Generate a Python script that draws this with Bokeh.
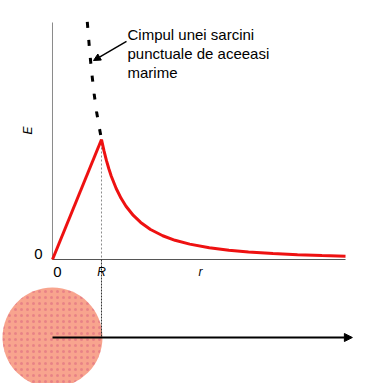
from bokeh.plotting import figure
from bokeh.models import Range1d, Arrow, NormalHead
from bokeh.core.properties import value
from bokeh.embed import file_html
from bokeh.resources import INLINE
import math

# Field of a uniformly charged sphere (units: r/R, E/E(R))
r_inside = [0.0, 1.0]
E_inside = [0.0, 1.0]
r_outside = [1.0, 1.05, 1.1, 1.15, 1.2, 1.3, 1.4, 1.5, 1.65, 1.8, 2.0, 2.25, 2.5, 2.8, 3.2, 3.6, 4.0, 4.5, 5.0, 5.5, 5.98]
E_outside = [1.0, 0.907, 0.826, 0.756, 0.694, 0.592, 0.510, 0.444, 0.367, 0.309, 0.25, 0.198, 0.16, 0.128, 0.098, 0.077, 0.0625, 0.049, 0.04, 0.033, 0.028]
# Point charge of the same magnitude (dashed)
r_point = [0.71, 0.73, 0.76, 0.8, 0.85, 0.9, 0.95, 1.0]
E_point = [1.98, 1.88, 1.73, 1.56, 1.38, 1.23, 1.11, 1.0]

R = 1.0
r_axis_end = 5.98
E_axis_top = 1.975
sphere_y = -0.65
sphere_radius = 1.02
r_arrow_end = 6.12

x_tick_pos = [0.1, 1.0, 3.02]
x_tick_labels = ["0", "R", "r"]
y_tick_label = "0"
y_label = "E"
note_lines = ["Cimpul unei sarcini", "punctuale de aceeasi", "marime"]

p = figure(width=359, height=383, output_backend="svg", toolbar_location=None,
           x_range=Range1d(-1.0612, 6.2653), y_range=Range1d(-1.0333, 2.1583),
           min_border=0)
p.axis.visible = False
p.grid.visible = False
p.outline_line_color = None
p.background_fill_color = "white"

# sphere (bottom diagram)
p.circle(x=[0], y=[sphere_y], radius=sphere_radius, fill_color="#F8A48E",
         line_color=None, hatch_pattern="dot", hatch_color="#D0507A",
         hatch_scale=6, hatch_weight=0.7, hatch_alpha=0.4)

# axes of graph
p.line([0, 0], [0, E_axis_top], line_color="#8a8a8a", line_width=1)
p.line([0, r_axis_end], [0, 0], line_color="#555555", line_width=1)

# vertical guide at R
p.line([R, R], [E_inside[-1], 0], line_color="#8a8a8a", line_width=1, line_dash="2 2")
p.line([R, R], [0, sphere_y], line_color="#333333", line_width=1, line_dash="2 1")

# r arrow
p.add_layout(Arrow(x_start=0, y_start=sphere_y, x_end=r_arrow_end, y_end=sphere_y,
                   line_color="black", line_width=2,
                   end=NormalHead(size=8, fill_color="black", line_color="black")))

# curves
p.line(r_point, E_point, line_color="black", line_width=3, line_dash="6 12")
p.line(r_inside, E_inside, line_color="#EE1111", line_width=3)
p.line(r_outside, E_outside, line_color="#EE1111", line_width=3)

font = value("Liberation Sans")
p.text(x=[x_tick_pos[0]], y=[-0.1], text=[x_tick_labels[0]], text_font=font,
       text_font_size="15px", text_align="center", text_baseline="middle", text_color="black")
p.text(x=x_tick_pos[1:], y=[-0.1, -0.105], text=x_tick_labels[1:], text_font=font,
       text_font_size="12px", text_font_style="italic", text_align="center",
       text_baseline="middle", text_color="black")
p.text(x=[-0.286], y=[0.042], text=[y_tick_label], text_font=font,
       text_font_size="15px", text_align="center", text_baseline="middle", text_color="black")
p.text(x=[-0.49], y=[1.075], text=[y_label], text_font=font, angle=math.pi / 2,
       text_font_size="12px", text_font_style="italic", text_align="center",
       text_baseline="middle", text_color="black")

p.text(x=[1.53] * 3, y=[1.875, 1.717, 1.558], text=note_lines, text_font=font,
       text_font_size="15px", text_align="left", text_baseline="alphabetic", text_color="black")
p.add_layout(Arrow(x_start=1.51, y_start=1.817, x_end=0.837, y_end=1.658,
                   line_color="black", line_width=1.5,
                   end=NormalHead(size=7, fill_color="black", line_color="black")))

open("out.html", "w").write(file_html(p, INLINE))
